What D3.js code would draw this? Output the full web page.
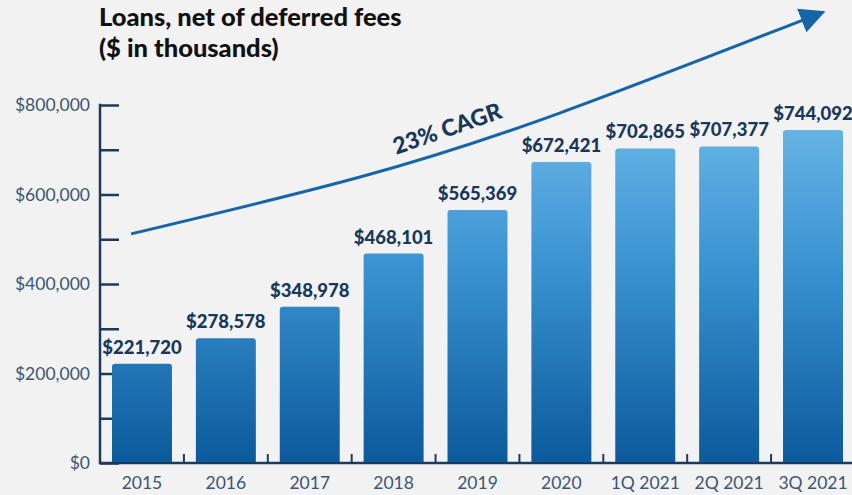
<!DOCTYPE html>
<html><head><meta charset="utf-8">
<script src="https://cdn.jsdelivr.net/npm/d3@7"></script>
<style>
html,body{margin:0;padding:0;background:#f2f2f2;}
svg{display:block;font-family:Lato, "Open Sans", sans-serif;}
</style></head>
<body><svg id="c" width="852" height="495"></svg>
<script>
const categories = ["2015","2016","2017","2018","2019","2020","1Q 2021","2Q 2021","3Q 2021"];
const loans = [221720,278578,348978,468101,565369,672421,702865,707377,744092];
const yTicks = [0,100000,200000,300000,400000,500000,600000,700000,800000];
const yTickLabels = ["$0","","$200,000","","$400,000","","$600,000","","$800,000"];
// trend arrow (category index, value in $)
const trendIdx = [-0.13, 2.6, 4.98, 7.95];
const trendVal = [512000, 639000, 782000, 995000];
const title = ["Loans, net of deferred fees","($ in thousands)"];
const cagrLabel = "23% CAGR";

const svg = d3.select("#c");
const W = 852, H = 495;
const y = d3.scaleLinear().domain([0,800000]).range([463,105]);
const xb = d3.scaleBand().domain(categories).range([112, 843]).paddingInner(0.285).paddingOuter(0);
const xi = d3.scaleLinear().domain([0,1]).range([xb(categories[0])+xb.bandwidth()/2, xb(categories[1])+xb.bandwidth()/2]);

const defs = svg.append("defs");
const g = defs.append("linearGradient").attr("id","bg").attr("x1",0).attr("x2",0)
  .attr("gradientUnits","userSpaceOnUse").attr("y1",y(800000)).attr("y2",y(0));
g.append("stop").attr("offset","0%").attr("stop-color","#6cb9e8");
g.append("stop").attr("offset","45%").attr("stop-color","#3a93d1");
g.append("stop").attr("offset","100%").attr("stop-color","#0a5a9c");
defs.append("marker").attr("id","ah").attr("viewBox","0 0 10 10").attr("refX",3).attr("refY",5)
  .attr("markerWidth",8.5).attr("markerHeight",8.5).attr("orient","auto").attr("markerUnits","strokeWidth")
  .append("path").attr("d","M0,0 L10,5 L0,10 Z").attr("fill","#1565a8");

// title
svg.append("g").selectAll("text").data(title).join("text")
  .attr("x",99).attr("y",(d,i)=>26+i*31)
  .attr("font-size",25.5).attr("font-weight",900).attr("fill","#111")
  .text(d=>d);

// y axis
const axisColor = "#1b3a5c";
const yAx = svg.append("g").attr("transform","translate(100,0)")
  .call(d3.axisRight(y).tickValues(yTicks).tickSize(19).tickFormat(""));
yAx.select(".domain").remove();
yAx.selectAll("line").attr("stroke",axisColor).attr("stroke-width",2.5);
svg.append("line").attr("x1",100).attr("x2",100).attr("y1",y(800000)-1.25).attr("y2",y(0)+1.25)
  .attr("stroke",axisColor).attr("stroke-width",2.5);
svg.append("g").selectAll("text").data(yTicks).join("text")
  .attr("x",90).attr("y",d=>y(d)+6).attr("text-anchor","end")
  .attr("font-size",17.5).attr("fill","#3b5674")
  .text((d,i)=>yTickLabels[i]);

// baseline + small ticks between bars
svg.append("line").attr("x1",100).attr("x2",W).attr("y1",y(0)).attr("y2",y(0))
  .attr("stroke",axisColor).attr("stroke-width",2.5);
svg.append("g").selectAll("line").data(categories.slice(1)).join("line")
  .attr("x1",d=>xb(d)-xb.step()*xb.paddingInner()/2).attr("x2",d=>xb(d)-xb.step()*xb.paddingInner()/2)
  .attr("y1",y(0)).attr("y2",y(0)-9).attr("stroke",axisColor).attr("stroke-width",2);

// bars
svg.append("g").selectAll("path").data(loans).join("path")
  .attr("fill","url(#bg)")
  .attr("d",(d,i)=>{
    const x0 = xb(categories[i]), w = xb.bandwidth(), t = y(d), b = y(0)-1, r = 3;
    return `M${x0},${b}V${t+r}Q${x0},${t} ${x0+r},${t}H${x0+w-r}Q${x0+w},${t} ${x0+w},${t+r}V${b}Z`;
  });

// value labels
svg.append("g").selectAll("text").data(loans).join("text")
  .attr("x",(d,i)=>xb(categories[i])+xb.bandwidth()/2).attr("y",d=>y(d)-10)
  .attr("text-anchor","middle").attr("font-size",18.5).attr("font-weight",900).attr("fill","#17385c")
  .text(d=>"$"+d3.format(",")(d));

// x labels
svg.append("g").selectAll("text").data(categories).join("text")
  .attr("x",d=>xb(d)+xb.bandwidth()/2).attr("y",489)
  .attr("text-anchor","middle").attr("font-size",17.5).attr("fill","#3b5674")
  .text(d=>d);

// trend arrow
const pts = trendIdx.map((t,i)=>[xi(t), y(trendVal[i])]);
svg.append("path").attr("d", d3.line().curve(d3.curveNatural)(pts))
  .attr("fill","none").attr("stroke","#1565a8").attr("stroke-width",3).attr("marker-end","url(#ah)");

svg.append("text").attr("transform",`translate(${xi(3.67)},${y(708000)-10}) rotate(-19)`)
  .attr("text-anchor","middle").attr("font-size",23).attr("font-weight",900).attr("fill","#17385c")
  .text(cagrLabel);
</script></body></html>
